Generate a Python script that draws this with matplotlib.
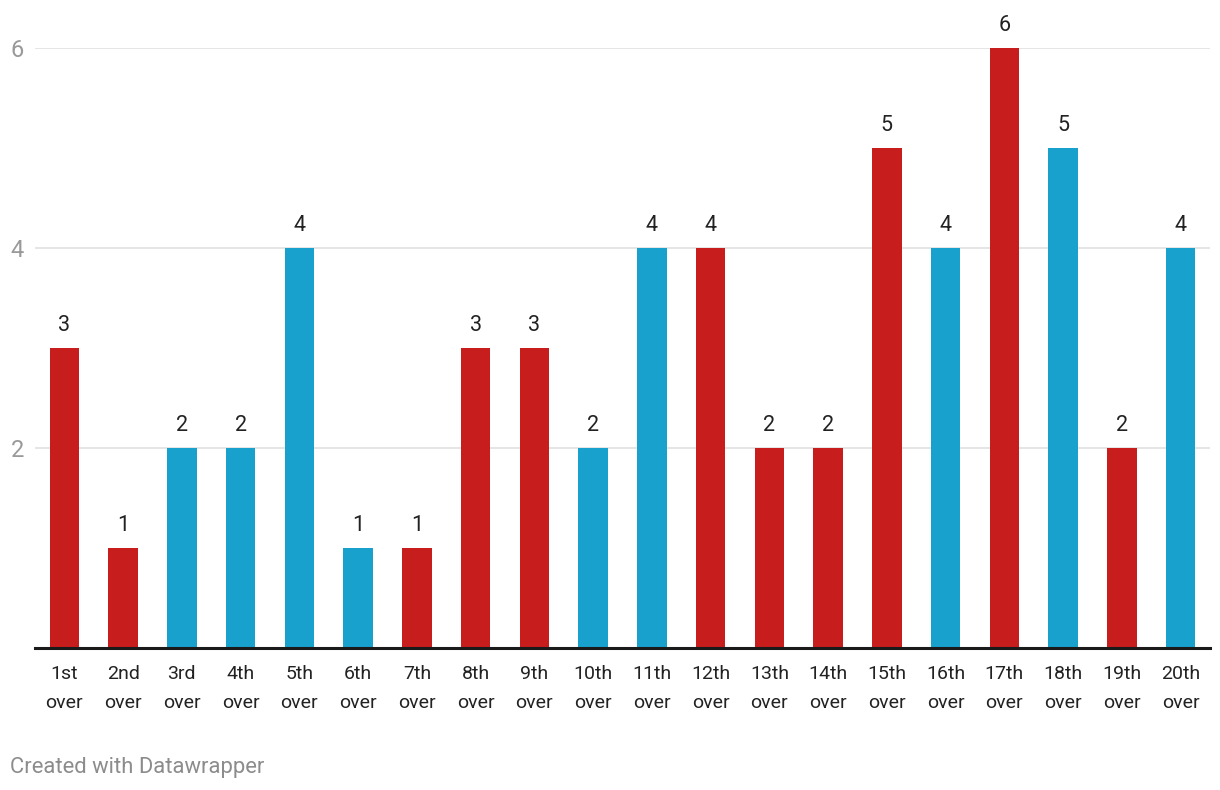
import matplotlib
matplotlib.use("Agg")
import matplotlib.pyplot as plt

plt.rcParams['font.family'] = ['Roboto', 'DejaVu Sans']

overs = ["1st", "2nd", "3rd", "4th", "5th", "6th", "7th", "8th", "9th", "10th",
         "11th", "12th", "13th", "14th", "15th", "16th", "17th", "18th", "19th", "20th"]
values = [3, 1, 2, 2, 4, 1, 1, 3, 3, 2, 4, 4, 2, 2, 5, 4, 6, 5, 2, 4]
team = ["r", "r", "b", "b", "b", "b", "r", "r", "r", "b",
        "b", "r", "r", "r", "r", "b", "r", "b", "r", "b"]
yticks = [2, 4, 6]

RED = "#c71e1d"
BLUE = "#18a1cd"
colors = [RED if t == "r" else BLUE for t in team]

fig = plt.figure(figsize=(12.2, 7.9), dpi=100)
ax = fig.add_axes([35 / 1220, 1 - 648 / 790, 1175 / 1220, 600 / 790])

x = range(len(overs))
bars = ax.bar(x, values, width=0.5, color=colors, zorder=3)
for i, v in enumerate(values):
    ax.text(i, v + 0.12, str(v), ha="center", va="bottom", fontsize=15.5,
            color="#222222", clip_on=False)

ax.set_xlim(-0.5, len(overs) - 0.5)
ax.set_ylim(0, 6)
ax.set_yticks(yticks)
ax.set_yticklabels([str(t) for t in yticks], fontsize=17, color="#999999")
ax.tick_params(axis="y", length=0, pad=8)
ax.set_xticks(list(x))
ax.set_xticklabels([o + "\nover" for o in overs], fontsize=14, color="#222222",
                   linespacing=1.8)
ax.tick_params(axis="x", length=0, pad=12)
ax.grid(axis="y", color="#e0e0e0", linewidth=1.2, zorder=0)
for s in ["top", "right", "left"]:
    ax.spines[s].set_visible(False)
ax.spines["bottom"].set_color("#1a1a1a")
ax.spines["bottom"].set_linewidth(2.2)
ax.spines["bottom"].set_zorder(4)

fig.text(10 / 1220, 1 - 767 / 790, "Created with Datawrapper", fontsize=15.8,
         color="#8c8c8c", ha="left", va="center")

fig.savefig("out.png", dpi=100)
